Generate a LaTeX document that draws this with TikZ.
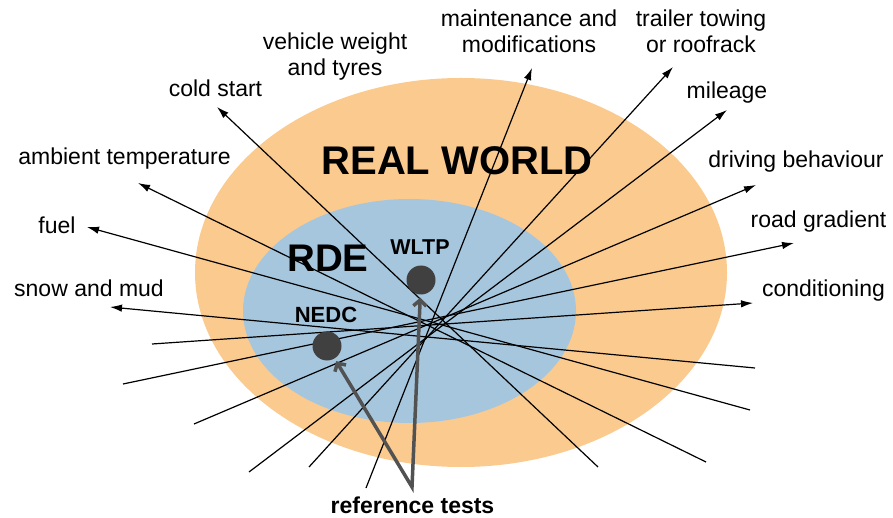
\documentclass[tikz,border=0pt]{standalone}
\usepackage{fontspec}
\setmainfont{Liberation Sans}
\usetikzlibrary{arrows.meta}
\definecolor{rworld}{RGB}{251,202,143}
\definecolor{rdeblue}{RGB}{166,198,221}
\definecolor{dotgray}{RGB}{64,64,64}
\definecolor{refgray}{RGB}{82,82,82}
\begin{document}
\begin{tikzpicture}[x=1pt,y=-1pt,
  lbl/.style={inner sep=0pt, anchor=base, font=\fontsize{23}{26}\selectfont, align=center},
  big/.style={inner sep=0pt, anchor=base, font=\bfseries\fontsize{40}{44}\selectfont},
  testlbl/.style={inner sep=0pt, anchor=base, font=\bfseries\fontsize{22}{24}\selectfont},
  ray/.style={line width=1.2pt, -{Latex[length=12pt,width=7.5pt]}},
  testdot/.style={circle, fill=dotgray, minimum size=29pt, inner sep=0pt},
  refarrow/.style={draw=refgray, line width=3.5pt, line join=miter,
    {Straight Barb[length=6pt,width=13pt]}-{Straight Barb[length=6pt,width=13pt]},
    shorten <=3pt, shorten >=3pt}
]
\useasboundingbox (0,0) rectangle (893,518);
% zones
\fill[rworld] (461,272.5) ellipse [x radius=266pt, y radius=194.5pt];
\fill[rdeblue] (409.5,311) ellipse [x radius=166.5pt, y radius=112pt];
% zone titles
\node[big] (realworld) at (457,175) {REAL WORLD};
\node[big, font=\bfseries\fontsize{38.5}{42}\selectfont] (rde) at (328,272) {RDE};
\node[testlbl, font=\bfseries\fontsize{21.5}{24}\selectfont] (wltplbl) at (420,255) {WLTP};
\node[testlbl] (nedclbl) at (326,322) {NEDC};
% factor labels (two-line labels: base = last line)
\node[lbl] (lveh) at (335,76) {vehicle weight\\and tyres};
\node[lbl] (lcold) at (215.5,97) {cold start};
\node[lbl] (lamb) at (124.5,165) {ambient temperature};
\node[lbl] (lfuel) at (57,234) {fuel};
\node[lbl] (lsnow) at (89,296) {snow and mud};
\node[lbl] (lmaint) at (529,53) {maintenance and\\modifications};
\node[lbl] (ltrail) at (701,53) {trailer towing\\or roofrack};
\node[lbl] (lmile) at (727,99) {mileage};
\node[lbl] (ldrive) at (796,168) {driving behaviour};
\node[lbl] (lroad) at (818.5,228) {road gradient};
\node[lbl] (lcond) at (823.5,297) {conditioning};
% arrow tips
\coordinate (tcold) at (217,107);
\coordinate (tamb) at (138,183);
\coordinate (tfuel) at (87,227);
\coordinate (tsnow) at (110,307);
\coordinate (tmaint) at (532,68);
\coordinate (ttrail) at (673,67);
\coordinate (tmile) at (727,110);
\coordinate (tdrive) at (756,185);
\coordinate (troad) at (794,243);
\coordinate (tcond) at (753,303);
% free ends
\coordinate (ecold) at (598,467);
\coordinate (eamb) at (706,462);
\coordinate (efuel) at (750,410);
\coordinate (esnow) at (755,368);
\coordinate (emaint) at (366,488);
\coordinate (etrail) at (309,467);
\coordinate (emile) at (249,472);
\coordinate (edrive) at (194,424);
\coordinate (eroad) at (123,384);
\coordinate (econd) at (152,344);
% rays
\draw[ray] (ecold) -- (tcold);
\draw[ray] (eamb) -- (tamb);
\draw[ray] (efuel) -- (tfuel);
\draw[ray] (esnow) -- (tsnow);
\draw[ray] (emaint) -- (tmaint);
\draw[ray] (etrail) -- (ttrail);
\draw[ray] (emile) -- (tmile);
\draw[ray] (edrive) -- (tdrive);
\draw[ray] (eroad) -- (troad);
\draw[ray] (econd) -- (tcond);
% test points
\node[testdot] (wltp) at (421,280) {};
\node[testdot] (nedc) at (327,346) {};
\coordinate (apex) at (412,487);
\draw[refarrow] (nedc) -- (apex) -- (wltp);
\node[testlbl, font=\bfseries\fontsize{23}{26}\selectfont] (reftests) at (412.5,513) {reference tests};
\end{tikzpicture}
\end{document}
